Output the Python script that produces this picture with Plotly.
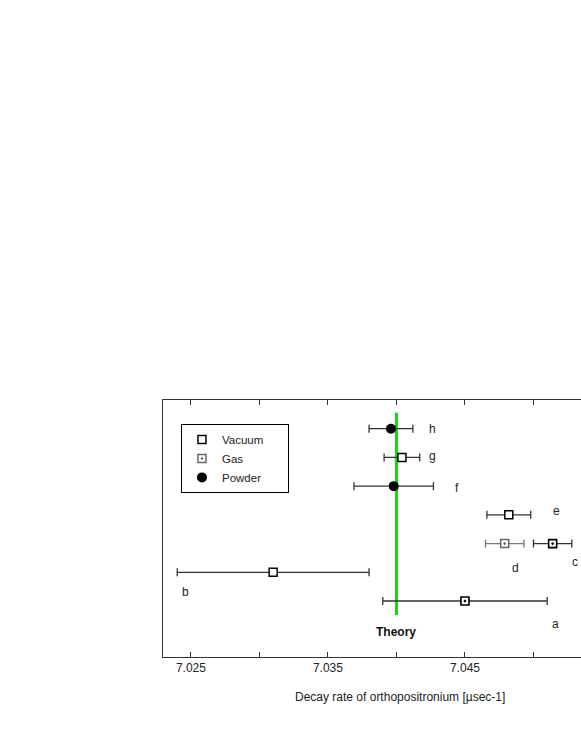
import plotly.graph_objects as go

# measurements: decay rate of orthopositronium [usec-1]
labels = ['h', 'g', 'f', 'e', 'd', 'c', 'b', 'a']
methods = ['Powder', 'Vacuum', 'Powder', 'Vacuum', 'Gas', 'Gas', 'Vacuum', 'Gas']
rates = [7.0396, 7.0404, 7.0398, 7.0482, 7.0479, 7.0514, 7.0310, 7.0450]
errors = [0.0016, 0.0013, 0.0029, 0.0016, 0.0014, 0.0014, 0.0070, 0.0060]
rows = [7, 6, 5, 4, 3, 3, 2, 1]

theory_rate = 7.0400

# label placement (data units)
label_x = [7.0426, 7.0426, 7.0444, 7.0517, 7.0487, 7.0530, 7.0246, 7.0516]
label_y = [7.0, 6.06, 4.94, 4.14, 2.15, 2.36, 1.31, 0.20]

tick_vals = [7.025, 7.030, 7.035, 7.040, 7.045, 7.050]
tick_text = ['7.025', '', '7.035', '', '7.045', '']

styles = {
    'Vacuum': dict(symbol='square', size=8, color='white', line=dict(color='black', width=1.5)),
    'Gas': dict(symbol='square-dot', size=8, color='white', line=dict(color='black', width=1.6)),
    'Powder': dict(symbol='circle', size=10, color='black', line=dict(color='black', width=0)),
}

fig = go.Figure()

# theory line
fig.add_trace(go.Scatter(
    x=[theory_rate, theory_rate], y=[0.51, 7.56], mode='lines',
    line=dict(color='#14d814', width=3), showlegend=False, hoverinfo='skip'))

pad = '\u00a0' * 6
for method in ['Vacuum', 'Gas', 'Powder']:
    idx = [i for i, m in enumerate(methods) if m == method]
    first = True
    for i in idx:
        grey = labels[i] == 'd'
        col = '#777777' if grey else '#333333'
        mk = dict(styles[method])
        if grey:
            mk['line'] = dict(color='#666666', width=1.5)
        fig.add_trace(go.Scatter(
            x=[rates[i]], y=[rows[i]], mode='markers', name=method + pad,
            legendgroup=method, showlegend=first,
            marker=mk,
            error_x=dict(type='data', array=[errors[i]], color=col, thickness=1.3, width=4),
        ))
        first = False

for lab, lx, ly in zip(labels, label_x, label_y):
    fig.add_annotation(x=lx, y=ly, text=lab, showarrow=False,
                       font=dict(size=12, color='#222222'))

fig.add_annotation(x=theory_rate, y=-0.08, text='<b>Theory</b>', showarrow=False,
                   font=dict(size=12, color='#111111'))

# axis title (the original frame runs past the right edge, so it sits off-centre)
fig.add_annotation(x=0.567, y=-0.19, xref='paper', yref='paper',
                   text='Decay rate of orthopositronium [µsec-1]', showarrow=False,
                   font=dict(size=12, color='#222222'))

fig.update_layout(
    width=581, height=752,
    margin=dict(l=163, r=0, t=400, b=95),
    paper_bgcolor='white', plot_bgcolor='white',
    font=dict(family='Liberation Sans, Arial, sans-serif', size=12, color='#222222'),
    showlegend=True,
    legend=dict(x=0.043, y=0.907, xanchor='left', yanchor='top',
                bordercolor='black', borderwidth=1, bgcolor='white',
                font=dict(size=11.5), itemwidth=30, tracegroupgap=0),
)
fig.update_xaxes(
    range=[7.02296, 7.05347], tickvals=tick_vals, ticktext=tick_text,
    ticks='inside', ticklen=5, tickcolor='#333333', showline=True, linecolor='#333333',
    linewidth=1, mirror='ticks', showgrid=False, zeroline=False,
)
fig.update_yaxes(
    range=[-0.95, 8.0], showticklabels=False, ticks='', showline=True,
    linecolor='#333333', linewidth=1, mirror=False, showgrid=False, zeroline=False,
)

fig.write_html('out.html', config={'displayModeBar': False},
               post_script="document.body.style.margin='0';document.body.style.overflow='hidden';")
